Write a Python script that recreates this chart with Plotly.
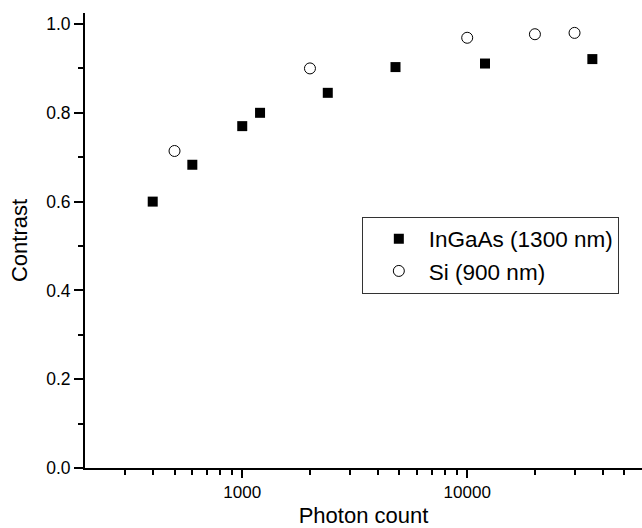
import plotly.graph_objects as go

# InGaAs (1300 nm) – filled squares
ingaas_x = [400, 600, 1000, 1200, 2400, 4800, 12000, 36000]
ingaas_y = [0.600, 0.683, 0.770, 0.800, 0.845, 0.903, 0.911, 0.921]

# Si (900 nm) – open circles
si_x = [500, 2000, 10000, 20000, 30000]
si_y = [0.714, 0.900, 0.969, 0.977, 0.980]

x_major = [1000, 10000]
x_major_text = ["1000", "10000"]
x_minor = [300, 400, 500, 600, 700, 800, 900,
           2000, 3000, 4000, 5000, 6000, 7000, 8000, 9000,
           20000, 30000, 40000, 50000]

FONT = "Liberation Sans, Arial, sans-serif"

fig = go.Figure()
fig.add_trace(go.Scatter(
    x=ingaas_x, y=ingaas_y, mode="markers", name="InGaAs (1300 nm)",
    marker=dict(symbol="square", size=10, color="black",
                line=dict(width=0)),
))
fig.add_trace(go.Scatter(
    x=si_x, y=si_y, mode="markers", name="Si (900 nm)",
    marker=dict(symbol="circle-open", size=11, color="black",
                line=dict(width=1, color="black")),
))

fig.update_layout(
    width=642, height=528,
    margin=dict(l=85, r=0, t=13, b=60, autoexpand=False),
    paper_bgcolor="white", plot_bgcolor="white",
    font=dict(family=FONT, color="black", size=17),
    showlegend=True,
    legend=dict(
        x=0.497, y=0.468, xanchor="left", yanchor="middle",
        bordercolor="#333333", borderwidth=1, bgcolor="white",
        font=dict(family=FONT, size=22.5, color="black"),
        indentation=6, itemwidth=50, tracegroupgap=0,
    ),
)

fig.update_xaxes(
    type="log", range=[2.30103, 4.777], automargin=False,
    showgrid=False, zeroline=False,
    showline=True, linecolor="black", linewidth=2,
    ticks="outside", ticklen=8, tickwidth=1.5, tickcolor="black",
    tickvals=x_major, ticktext=x_major_text,
    tickfont=dict(family=FONT, size=17, color="black"),
    minor=dict(tickvals=x_minor, ticks="outside", ticklen=5,
               tickwidth=1.5, tickcolor="black", showgrid=False),
    title=dict(text="Photon count", font=dict(family=FONT, size=22),
               standoff=16),
)

fig.update_yaxes(
    range=[0, 1.0248], automargin=False,
    showgrid=False, zeroline=False,
    showline=True, linecolor="black", linewidth=2,
    ticks="outside", ticklen=9, tickwidth=1.5, tickcolor="black",
    tick0=0, dtick=0.2, tickformat=".1f",
    tickfont=dict(family=FONT, size=17.5, color="black"),
    minor=dict(dtick=0.1, ticks="outside", ticklen=5, tickwidth=1.5,
               tickcolor="black", showgrid=False),
    title=dict(text="Contrast", font=dict(family=FONT, size=22),
               standoff=12),
)

fig.write_html(
    "out.html",
    config={"displayModeBar": False},
    post_script="document.body.style.margin='0';"
                "document.body.style.overflow='hidden';",
)
